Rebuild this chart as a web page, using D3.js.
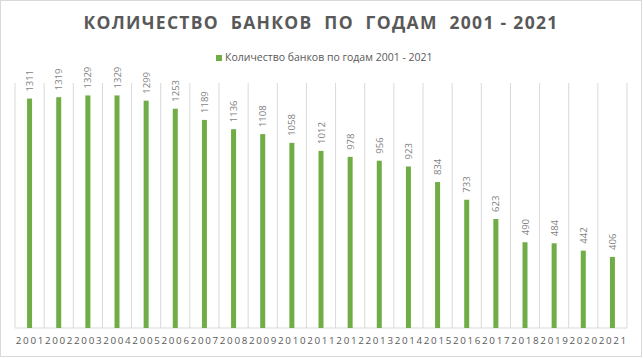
<!DOCTYPE html>
<html>
<head>
<meta charset="utf-8">
<script src="https://cdn.jsdelivr.net/npm/d3@7"></script>
<style>
  body { margin: 0; background: #fff; }
  text { font-family: "Open Sans", "Noto Sans", sans-serif; }
</style>
</head>
<body>
<svg id="chart" width="643" height="358"></svg>
<script>
// data
var years = ['2001','2002','2003','2004','2005','2006','2007','2008','2009','2010','2011',
             '2012','2013','2014','2015','2016','2017','2018','2019','2020','2021'];
var banks = [1311, 1319, 1329, 1329, 1299, 1253, 1189, 1136, 1108, 1058, 1012,
             978, 956, 923, 834, 733, 623, 490, 484, 442, 406];
var titleText = 'КОЛИЧЕСТВО  БАНКОВ  ПО  ГОДАМ  2001 - 2021';
var seriesName = 'Количество банков по годам 2001 - 2021';

var margin = {top: 83, right: 16, bottom: 30, left: 15},
    width = 643 - margin.left - margin.right,
    height = 358 - margin.top - margin.bottom;

var svg = d3.select('#chart');

// outer border
svg.append('rect')
   .attr('x', 0.5).attr('y', 0.5)
   .attr('width', 641).attr('height', 356)
   .attr('fill', '#fff')
   .attr('stroke', '#d9d9d9');

svg.append('text')
   .attr('x', 321).attr('y', 29)
   .attr('text-anchor', 'middle')
   .attr('fill', '#595959')
   .attr('font-size', 17.5)
   .attr('font-weight', 'bold')
   .style('letter-spacing', '1.3px')
   .style('white-space', 'pre')
   .text(titleText);

// legend
var legend = svg.append('g').attr('transform', 'translate(216,55)');
legend.append('rect')
      .attr('width', 6).attr('height', 6)
      .attr('fill', '#70ad47');
legend.append('text')
      .attr('x', 9).attr('y', 6)
      .attr('fill', '#595959')
      .attr('font-size', 10.5)
      .text(seriesName);

var g = svg.append('g')
           .attr('transform', 'translate(' + margin.left + ',' + margin.top + ')');

var x = d3.scaleBand().domain(years).range([0, width]);
var y = d3.scaleLinear().domain([0, 1400]).range([height, 0]);

// vertical gridlines at category edges
var edges = years.map(d => x(d)).concat([width]);
g.selectAll('.grid')
 .data(edges)
 .enter().append('line')
 .attr('x1', d => d).attr('x2', d => d)
 .attr('y1', 0).attr('y2', height)
 .attr('stroke', '#d9d9d9')
 .attr('stroke-width', 1);

g.append('line')
 .attr('x1', 0).attr('x2', width)
 .attr('y1', height).attr('y2', height)
 .attr('stroke', '#d9d9d9');

var barW = 5;
g.selectAll('.bar')
 .data(banks)
 .enter().append('rect')
 .attr('x', (d, i) => x(years[i]) + x.bandwidth() / 2 - barW / 2)
 .attr('y', d => y(d))
 .attr('width', barW)
 .attr('height', d => height - y(d))
 .attr('fill', '#70ad47');

// rotated value labels
g.selectAll('.lbl')
 .data(banks)
 .enter().append('text')
 .attr('transform', (d, i) => 'translate(' + (x(years[i]) + x.bandwidth() / 2 + 3.5) + ',' + (y(d) - 7) + ') rotate(-90)')
 .attr('fill', '#7f7f7f')
 .attr('font-size', 9.5)
 .attr('font-family', '"Liberation Sans", sans-serif')
 .text(d => d);

// category labels
var xAxis = g.append('g')
             .attr('transform', 'translate(0,' + height + ')')
             .call(d3.axisBottom(x).tickSize(0).tickPadding(9));
xAxis.select('.domain').remove();
xAxis.selectAll('text')
     .attr('fill', '#595959')
     .attr('font-size', 9.8)
     .attr('dx', 0.8)
     .style('letter-spacing', '1.7px')
     .attr('font-family', '"Liberation Sans", sans-serif');
</script>
</body>
</html>
